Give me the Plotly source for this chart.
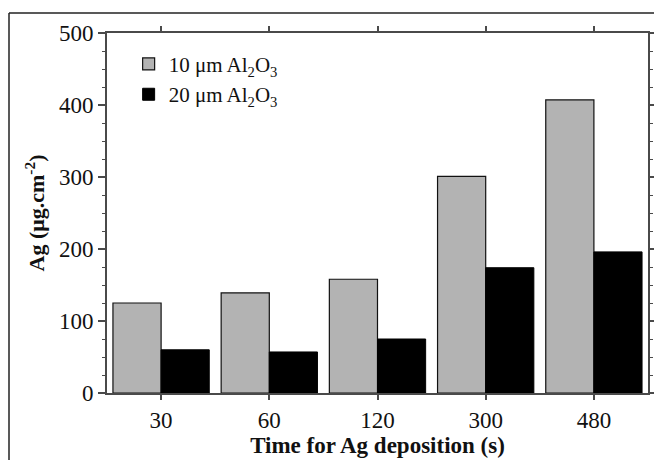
import plotly.graph_objects as go

categories = ["30", "60", "120", "300", "480"]
series_10um = [125, 139, 158, 301, 407]
series_20um = [60, 57, 75, 174, 196]
series_names = ["10 μm Al<sub>2</sub>O<sub>3</sub>", "20 μm Al<sub>2</sub>O<sub>3</sub>"]
y_ticks = [0, 100, 200, 300, 400, 500]

FONT = "Liberation Serif"
AX = "#4a4a4a"

fig = go.Figure()
fig.add_trace(go.Bar(x=categories, y=series_10um, name=series_names[0],
                     marker=dict(color="#b3b3b3", line=dict(color="#111111", width=1.2))))
fig.add_trace(go.Bar(x=categories, y=series_20um, name=series_names[1],
                     marker=dict(color="#000000", line=dict(color="#000000", width=1))))

L, R, T, B = 107, 6, 33, 67
W, H = 654, 460
pw, ph = W - L - R, H - T - B

fig.update_layout(
    width=W, height=H,
    margin=dict(l=L, r=R, t=T, b=B, autoexpand=False),
    paper_bgcolor="white", plot_bgcolor="white",
    barmode="group", bargap=0.11, bargroupgap=0,
    font=dict(family=FONT, size=23, color="#111111"),
    showlegend=True,
    legend=dict(x=0.04, y=0.97, xanchor="left", yanchor="top",
                bgcolor="rgba(0,0,0,0)", font=dict(size=21, family=FONT),
                itemwidth=30, tracegroupgap=0),
    xaxis=dict(
        type="category", automargin=False,
        showline=True, linecolor=AX, linewidth=2, mirror="allticks",
        ticks="outside", ticklen=5, tickcolor=AX, tickwidth=1.5,
        title=dict(text="<b>Time for Ag deposition (s)</b>", font=dict(size=23, family=FONT), standoff=4),
        tickfont=dict(size=23, family=FONT),
    ),
    yaxis=dict(
        range=[0, 500], tickvals=y_ticks, automargin=False,
        showline=True, linecolor=AX, linewidth=2, mirror="allticks",
        ticks="outside", ticklen=7, tickcolor=AX, tickwidth=1.5,
        minor=dict(dtick=25, ticks="outside", ticklen=3, tickcolor=AX, tickwidth=1.2),
        showgrid=False, zeroline=False,
        title=dict(text="<b>Ag (μg.cm<sup>-2</sup>)</b>", font=dict(size=22, family=FONT), standoff=8),
        tickfont=dict(size=23, family=FONT),
    ),
)

# outer frame of the cropped figure
fx0 = (9 - L) / pw
fy1 = (H - B - 13) / ph
fig.add_shape(type="line", xref="paper", yref="paper",
              x0=fx0, x1=fx0, y0=fy1, y1=-0.3, line=dict(color="#222222", width=1.5))
fig.add_shape(type="line", xref="paper", yref="paper",
              x0=fx0, x1=1.1, y0=fy1, y1=fy1, line=dict(color="#222222", width=1.5))

fig.write_html("out.html", config={"displayModeBar": False},
               post_script="document.body.style.margin='0';document.body.style.overflow='hidden';")
